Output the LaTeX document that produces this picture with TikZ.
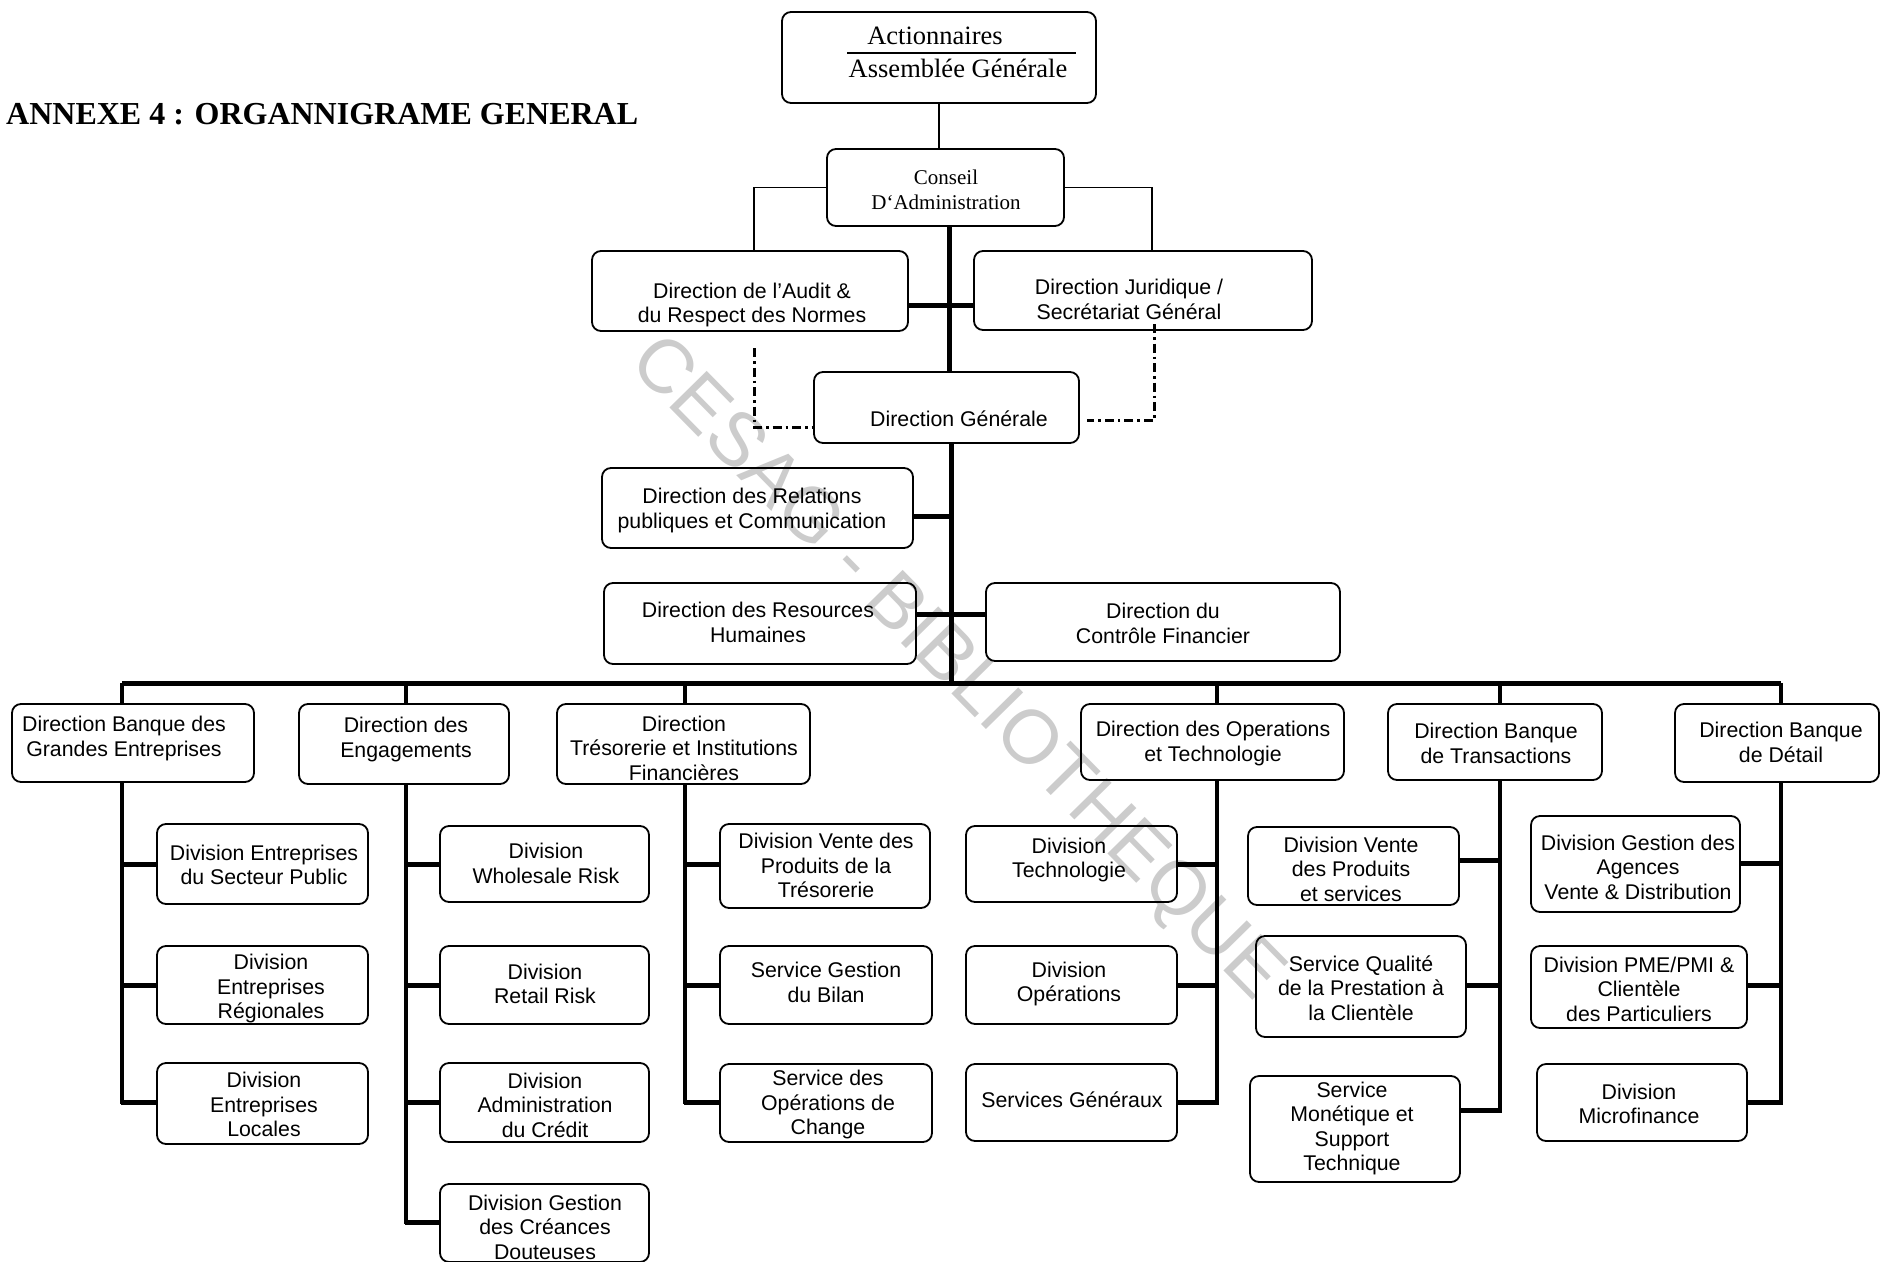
\documentclass[tikz,border=0pt]{standalone}
\usepackage{fontspec}
\setmainfont{Liberation Serif}
\setsansfont{Liberation Sans}
\newfontfamily\wmfont{Liberation Sans}
\begin{document}
\begin{tikzpicture}[x=1pt,y=-1pt,
  box/.style={draw,line width=1.8pt,rounded corners=9pt,inner sep=0pt},
  txt/.style={align=center,inner sep=0pt,font=\sffamily\fontsize{21.3}{24.6}\selectfont},
  stxt/.style={align=center,inner sep=0pt,font=\rmfamily\fontsize{21}{25}\selectfont},
  thk/.style={line width=5pt},
  vln/.style={line width=3.6pt},
  thn/.style={line width=1.4pt},
  dd/.style={line width=3pt,dash pattern=on 9pt off 4pt on 2.5pt off 4pt}]
\useasboundingbox (0,0) rectangle (1882,1261);
\newcommand{\bx}[8]{%
  \node[box,minimum width=#4,minimum height=#5] (#1) at (#2,#3) {};
  \node[txt] (#1-t) at (#6,#7) {#8};}
% watermark
\node[text=black!20,font=\wmfont\fontsize{76}{76}\selectfont,rotate=-45.5,inner sep=0pt] (wm) at (955,670) {CESAG - BIBLIOTHEQUE};
% title
\node[anchor=west,inner sep=0pt,font=\rmfamily\bfseries\fontsize{32}{32}\selectfont] (title) at (6,114) {ANNEXE 4 : ORGANNIGRAME GENERAL};
% top boxes
\node[box,minimum width=314,minimum height=91] (act) at (939,57.5) {};
\node[inner sep=0pt,font=\rmfamily\fontsize{26.5}{31}\selectfont] (act-t1) at (935,36) {Actionnaires};
\node[inner sep=0pt,font=\rmfamily\fontsize{26.5}{31}\selectfont] (act-t2) at (958,68) {Assemblée Générale};
\draw[line width=1.6pt] (847,53) -- (1076,53);
\node[box,minimum width=237,minimum height=77] (cons) at (945.5,187.5) {};
\node[stxt] (cons-t) at (946,190) {Conseil\\D`Administration};
\bx{audit}{750}{291}{316}{80}{752}{305}{Direction de l'Audit \&\\du Respect des Normes}
\bx{jur}{1143}{290.5}{338}{79}{1129}{299.5}{Direction Juridique /\\Secrétariat Général}
\bx{dg}{946.5}{407.5}{265}{71}{959}{419}{Direction Générale}
\bx{rel}{757.5}{508}{311}{80}{752}{510.5}{Direction des Relations\\publiques et Communication}
\bx{rh}{760}{623.5}{312}{81}{758}{622.5}{Direction des Resources\\Humaines}
\bx{cf}{1163}{622}{354}{78}{1163}{623.5}{Direction du\\Contrôle Financier}
% level 2
\bx{l1}{133}{743}{242}{78}{124}{738.5}{Direction Banque des\\Grandes Entreprises}
\bx{l2}{404}{744}{210}{80}{406}{739.5}{Direction des\\Engagements}
\bx{l3}{683.5}{744}{253}{80}{684}{748}{Direction\\Trésorerie et Institutions\\Financières}
\bx{l4}{1212.5}{742}{263}{76}{1213}{743.5}{Direction des Operations\\et Technologie}
\bx{l5}{1495}{742}{214}{76}{1496}{743.5}{Direction Banque\\de Transactions}
\bx{l6}{1777}{743}{204}{78}{1781}{742.5}{Direction Banque\\de Détail}
% column 1
\bx{c11}{262.5}{864}{211}{80}{264}{865}{Division Entreprises\\du Secteur Public}
\bx{c12}{262.5}{985}{211}{78}{271}{988.5}{Division\\Entreprises\\Régionales}
\bx{c13}{262.5}{1103.5}{211}{81}{264}{1104.5}{Division\\Entreprises\\Locales}
% column 2
\bx{c21}{544.5}{864}{209}{76}{546}{863.5}{Division\\Wholesale Risk}
\bx{c22}{544.5}{985}{209}{78}{545}{984}{Division\\Retail Risk}
\bx{c23}{544.5}{1102.5}{209}{79}{545}{1105}{Division\\Administration\\du Crédit}
\bx{c24}{544.5}{1223}{209}{78}{545}{1227}{Division Gestion\\des Créances\\Douteuses}
% column 3
\bx{c31}{825}{866}{210}{84}{826}{865.5}{Division Vente des\\Produits de la\\Trésorerie}
\bx{c32}{826}{985}{212}{78}{826}{982.5}{Service Gestion\\du Bilan}
\bx{c33}{826}{1103}{212}{78}{828}{1104.5}{Service des\\Opérations de\\Change}
% column 4
\bx{c41}{1071.5}{864}{211}{76}{1069}{860}{Division\\Technologie}
\bx{c42}{1071.5}{985}{211}{78}{1069}{984}{Division\\Opérations}
\bx{c43}{1071.5}{1102.5}{211}{77}{1072}{1100}{Services Généraux}
% column 5
\bx{c51}{1353.5}{866}{211}{78}{1351}{869}{Division Vente\\des Produits\\et services}
\bx{c52}{1361}{986.5}{210}{101}{1361}{988}{Service Qualité\\de la Prestation à\\la Clientèle}
\bx{c53}{1355}{1129}{210}{106}{1352}{1128.5}{Service\\Monétique et\\Support\\Technique}
% column 6
\bx{c61}{1635.5}{864}{209}{96}{1638}{867}{Division Gestion des\\Agences\\Vente \& Distribution}
\bx{c62}{1639}{987}{216}{82}{1639}{989}{Division PME/PMI \&\\Clientèle\\des Particuliers}
\bx{c63}{1642}{1102.5}{210}{77}{1639}{1104}{Division\\Microfinance}
% thin connectors
\draw[thn] (act.south) -- (act.south |- cons.north);
\draw[thn] (cons.west) -| ([xshift=4pt]audit.north);
\draw[thn] (cons.east) -| ([xshift=9pt]jur.north);
% dash-dot
\coordinate (ddl) at (754,348);
\coordinate (ddr) at (1154,324);
\draw[dd] (ddl) |- (dg.west |- 0,427);
\draw[dd] (ddr) |- ([xshift=7pt]dg.east |- 0,420);
% spine
\coordinate (bus) at (951,683);
\draw[thk] (cons.south -| 949,0) -- (dg.north -| 949,0);
\draw[thk] (audit.east |- 0,305) -- (jur.west |- 0,305);
\draw[thk] (dg.south -| 951,0) -- (bus);
\draw[thk] (rel.east |- 0,516) -- (951,516);
\draw[thk] (rh.east |- 0,614) -- (cf.west |- 0,614);
\draw[thk] (122,683) -- (1781,683);
% stems
\foreach \n/\x in {l1/122,l2/406,l3/685,l4/1217,l5/1500,l6/1781}
  \draw[line width=4.2pt] (\n.north -| \x,0) -- (\x,683);
% columns
\draw[vln] (l1.south -| 122,0) -- (122,1104);
\draw[vln] (l2.south -| 406,0) -- (406,1224);
\draw[vln] (l3.south -| 685,0) -- (685,1104);
\draw[vln] (l4.south -| 1217,0) -- (1217,1104);
\draw[vln] (l5.south -| 1500,0) -- (1500,1112);
\draw[vln] (l6.south -| 1781,0) -- (1781,1104);
\foreach \n/\y in {c11/864,c12/985,c13/1102}
  \draw[thk] (120.5,\y) -- (\n.west |- 0,\y);
\foreach \n/\y in {c21/864,c22/985,c23/1102,c24/1222}
  \draw[thk] (404.5,\y) -- (\n.west |- 0,\y);
\foreach \n/\y in {c31/864,c32/985,c33/1102}
  \draw[thk] (683.5,\y) -- (\n.west |- 0,\y);
\foreach \n/\y in {c41/864,c42/985,c43/1102}
  \draw[thk] (1218.5,\y) -- (\n.east |- 0,\y);
\foreach \n/\y in {c51/860,c52/985,c53/1110}
  \draw[thk] (1501.5,\y) -- (\n.east |- 0,\y);
\foreach \n/\y in {c61/863,c62/985,c63/1102}
  \draw[thk] (1782.5,\y) -- (\n.east |- 0,\y);
\end{tikzpicture}
\end{document}
